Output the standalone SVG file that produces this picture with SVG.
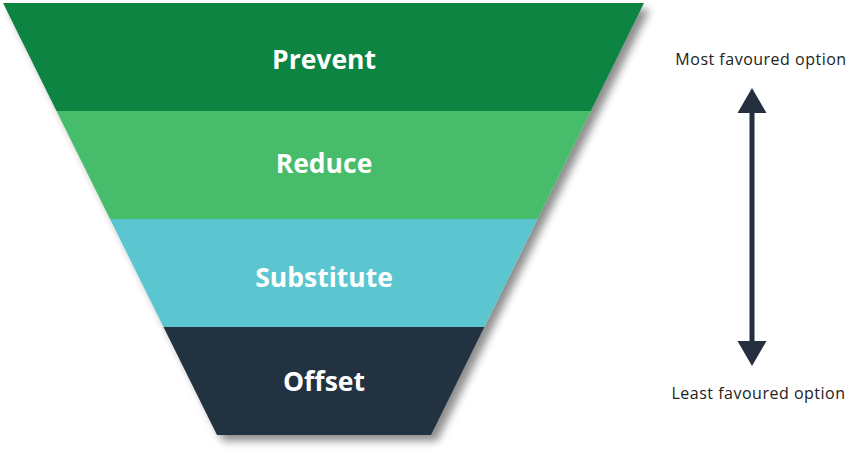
<svg xmlns="http://www.w3.org/2000/svg" width="865" height="459" viewBox="0 0 865 459">
<defs>
<filter id="sh" x="-10%" y="-10%" width="130%" height="130%">
<feGaussianBlur in="SourceAlpha" stdDeviation="4"/>
<feOffset dx="6" dy="6" result="b"/>
<feComponentTransfer><feFuncA type="linear" slope="0.45"/></feComponentTransfer>
<feMerge><feMergeNode/><feMergeNode in="SourceGraphic"/></feMerge>
</filter>
</defs>
<style>
.lbl{font-family:"Open Sans","Noto Sans",sans-serif;font-weight:700;font-size:26.5px;fill:#ffffff;text-anchor:middle}
.side{font-family:"Open Sans","Noto Sans",sans-serif;font-size:16px;letter-spacing:0.5px;fill:#222222;text-anchor:middle}
.arr{fill:#243040}
</style>
<rect width="865" height="459" fill="#ffffff"/>
<g filter="url(#sh)">
<g id="prevent">
<polygon points="3,3 644,3 590.8,111 56.5,111" fill="#118442"/>
</g>
<g id="reduce">
<polygon points="56.5,111 590.8,111 537.5,219 110,219" fill="#47bc6b"/>
</g>
<g id="substitute">
<polygon points="110,219 537.5,219 484.3,327 163.5,327" fill="#5bc6d0"/>
</g>
<g id="offset">
<polygon points="163.5,327 484.3,327 431,435 217,435" fill="#243040"/>
</g>
</g>
<text class="lbl" x="324" y="69">Prevent</text>
<text class="lbl" x="324" y="173">Reduce</text>
<text class="lbl" x="324" y="287">Substitute</text>
<text class="lbl" x="324" y="391">Offset</text>
<g id="most-label"><text class="side" x="761" y="65">Most favoured option</text></g>
<g id="least-label"><text class="side" x="758.5" y="399">Least favoured option</text></g>
<g id="connectors">
<rect class="arr" x="749.5" y="110" width="5" height="234"/>
<polygon class="arr" points="752,88 766.5,113 737.5,113"/>
<polygon class="arr" points="752,366 766.5,341 737.5,341"/>
</g>
</svg>
